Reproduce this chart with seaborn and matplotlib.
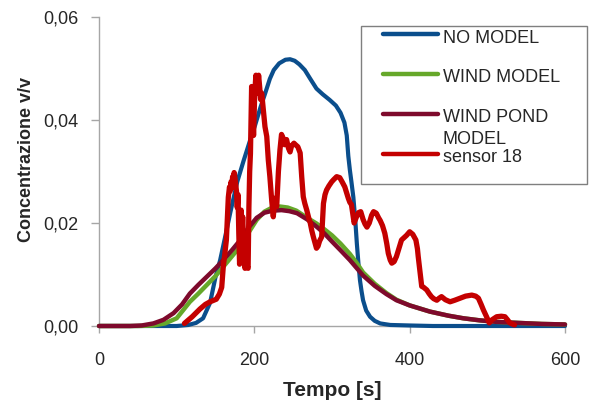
import numpy as np
import matplotlib
matplotlib.use("Agg")
import matplotlib.pyplot as plt
import seaborn as sns
from matplotlib.lines import Line2D
from matplotlib.patches import Rectangle

# ---- data ----
t_no_model = [0, 50, 100, 115, 125, 134, 143, 150, 156, 162, 169, 178, 186, 194, 201, 208,
              214, 220, 225, 232, 240, 246, 252, 258, 265, 272, 280, 288, 297, 305, 311,
              316, 319, 321, 323, 325, 327.5, 330, 332, 334, 336, 338, 340, 344, 349, 355,
              362, 375, 400, 430, 600]
c_no_model = [0, 0, 0, 0.0002, 0.0006, 0.0015, 0.0045, 0.0095, 0.0128, 0.0170, 0.0220,
              0.0280, 0.0320, 0.0358, 0.0390, 0.0425, 0.0452, 0.0480, 0.0497, 0.0510,
              0.0517, 0.0518, 0.0515, 0.0508, 0.0497, 0.0480, 0.0461, 0.0450, 0.0439,
              0.0428, 0.0414, 0.0395, 0.0370, 0.0330, 0.0303, 0.0280, 0.0250, 0.0205,
              0.0160, 0.0122, 0.0089, 0.0068, 0.0050, 0.0030, 0.0018, 0.0010, 0.0005,
              0.0002, 0.0001, 0, 0]

t_wind = [0, 50, 70, 85, 100, 117, 128, 139, 150, 160, 171, 182, 192, 203, 213, 223, 233,
          243, 254, 268, 280, 290, 300, 311, 323, 332, 340, 355, 370, 383, 400, 426, 450,
          469, 490, 512, 540, 570, 600]
c_wind = [0, 0, 0.0001, 0.0005, 0.0015, 0.0047, 0.0063, 0.0080, 0.0097, 0.0115, 0.0135,
          0.0155, 0.0180, 0.0206, 0.0222, 0.0230, 0.0232, 0.0230, 0.0224, 0.0210, 0.0199,
          0.0188, 0.0176, 0.0160, 0.0140, 0.0122, 0.0104, 0.0082, 0.0064, 0.0051, 0.0040,
          0.0028, 0.0020, 0.0015, 0.0011, 0.0008, 0.0006, 0.0004, 0.0003]

t_wind_pond = [0, 40, 55, 70, 83, 96, 107, 117, 128, 139, 150, 160, 171, 182, 192, 203,
               213, 224, 235, 245, 255, 268, 280, 290, 300, 311, 323, 340, 355, 370, 383,
               400, 426, 450, 469, 490, 512, 540, 570, 600]
c_wind_pond = [0, 0, 0.0001, 0.0005, 0.0012, 0.0025, 0.0042, 0.0063, 0.0080, 0.0096,
               0.0112, 0.0128, 0.0147, 0.0167, 0.0190, 0.0210, 0.0220, 0.0224, 0.0225,
               0.0223, 0.0219, 0.0207, 0.0193, 0.0180, 0.0164, 0.0147, 0.0128, 0.0098,
               0.0078, 0.0062, 0.0050, 0.0040, 0.0028, 0.0020, 0.0015, 0.0011, 0.0008,
               0.0006, 0.0004, 0.0003]

t_sensor = [110, 120, 130, 137, 143, 151, 155, 158, 160, 162, 164, 165, 166.5, 168, 169,
            170, 171, 172, 173, 174, 175, 176, 177, 178, 179, 180, 181, 182, 183, 184, 185,
            186, 187, 188, 189, 190, 191, 192, 193, 194, 195, 196.5, 198, 199, 200.5, 202,
            203, 204, 205.5, 207, 208, 209.5, 211.6, 213.7, 216, 218, 220, 222.3, 224.4,
            226.5, 228.8, 231, 233, 235, 237, 239, 241.5, 244, 246, 248, 251, 253, 256,
            259, 261, 263, 265, 267.5, 270, 272, 274, 276, 278, 280, 282, 284, 286.7, 289,
            291, 293, 296, 299.6, 302, 306, 310, 313, 316.5, 319, 321, 323, 325, 327, 328.5,
            331, 334, 337, 340, 342.5, 345, 348, 351, 353.5, 357, 360, 362, 365, 368, 370.5,
            372.5, 375, 377, 380, 383, 386, 389.5, 393, 396, 400, 404, 408, 410, 411, 413,
            415.5, 418, 422, 425, 428, 431, 435, 438, 441, 446, 452, 458, 465, 472, 480,
            485, 488.5, 492, 495, 499, 502.5, 506, 512, 518, 522.7, 526, 529, 535]
c_sensor = [0.0005, 0.0018, 0.0033, 0.0042, 0.0047, 0.0052, 0.0062, 0.0075, 0.0115, 0.0140,
            0.0167, 0.0200, 0.0250, 0.0270, 0.0262, 0.0280, 0.0268, 0.0290, 0.0285, 0.0298,
            0.0288, 0.0275, 0.0262, 0.0230, 0.0255, 0.0180, 0.0120, 0.0160, 0.0225, 0.0180,
            0.0212, 0.0175, 0.0160, 0.0112, 0.0140, 0.0170, 0.0115, 0.0112, 0.0230, 0.0300,
            0.0335, 0.0465, 0.0420, 0.0370, 0.0452, 0.0487, 0.0470, 0.0452, 0.0487, 0.0462,
            0.0440, 0.0452, 0.0419, 0.0387, 0.0368, 0.0322, 0.0290, 0.0245, 0.0212, 0.0248,
            0.0232, 0.0300, 0.0342, 0.0372, 0.0365, 0.0352, 0.0362, 0.0345, 0.0338, 0.0350,
            0.0355, 0.0352, 0.0348, 0.0336, 0.0290, 0.0251, 0.0238, 0.0225, 0.0210, 0.0200,
            0.0185, 0.0173, 0.0162, 0.0151, 0.0155, 0.0165, 0.0173, 0.0238, 0.0255, 0.0264,
            0.0272, 0.0280, 0.0284, 0.0290, 0.0288, 0.0280, 0.0270, 0.0258, 0.0248, 0.0240,
            0.0236, 0.0215, 0.0200, 0.0210, 0.0220, 0.0222, 0.0207, 0.0198, 0.0192, 0.0200,
            0.0215, 0.0222, 0.0219, 0.0210, 0.0205, 0.0195, 0.0180, 0.0160, 0.0141, 0.0128,
            0.0122, 0.0125, 0.0135, 0.0150, 0.0167, 0.0172, 0.0176, 0.0183, 0.0178, 0.0167,
            0.0150, 0.0135, 0.0110, 0.0077, 0.0075, 0.0070, 0.0063, 0.0057, 0.0053, 0.0050,
            0.0054, 0.0057, 0.0051, 0.0047, 0.0050, 0.0054, 0.0058, 0.0060, 0.0058, 0.0054,
            0.0042, 0.0031, 0.0018, 0.0006, 0.0012, 0.0018, 0.0019, 0.0018, 0.0012, 0.0006,
            0.0002]

series_names = ["NO MODEL", "WIND MODEL", "WIND POND\nMODEL", "sensor 18"]
series_colors = ["#0B4E8C", "#66A82A", "#7E0A2C", "#C40000"]
series_widths = [3.0, 3.2, 3.2, 3.8]

x_ticks = [0, 200, 400, 600]
y_ticks = [0.00, 0.02, 0.04, 0.06]
y_tick_labels = ["0,00", "0,02", "0,04", "0,06"]

# ---- plot ----
sns.set_style("white")
plt.rcParams["font.family"] = ["Liberation Sans", "DejaVu Sans"]

W, H = 589, 403
fig = plt.figure(figsize=(W / 100, H / 100), dpi=100)
ax = fig.add_axes([99 / W, 1 - 326 / H, (565 - 99) / W, (326 - 17) / H])

all_t = [t_no_model, t_wind, t_wind_pond, t_sensor]
all_c = [c_no_model, c_wind, c_wind_pond, c_sensor]
for t, c, col, lw in zip(all_t, all_c, series_colors, series_widths):
    sns.lineplot(x=t, y=c, ax=ax, color=col, linewidth=lw, estimator=None,
                 solid_capstyle="round", solid_joinstyle="round", clip_on=False)

ax.set_xlim(0, 600)
ax.set_ylim(0, 0.06)
ax.set_xticks(x_ticks)
ax.set_xticklabels([str(v) for v in x_ticks])
ax.set_yticks(y_ticks)
ax.set_yticklabels(y_tick_labels)
ax.tick_params(axis="x", direction="out", length=5, width=1, color="#A6A6A6",
               labelsize=13, pad=14, bottom=True)
ax.tick_params(axis="y", direction="out", length=6, width=1, color="#A6A6A6",
               labelsize=13, pad=9, left=True)
for s in ["top", "right"]:
    ax.spines[s].set_visible(False)
for s in ["left", "bottom"]:
    ax.spines[s].set_color("#A6A6A6")
    ax.spines[s].set_linewidth(1)
    ax.spines[s].set_zorder(0.5)

ax.set_xlabel("Tempo [s]", fontsize=15, fontweight="bold", labelpad=8)
ax.set_ylabel("Concentrazione v/v", fontsize=13, fontweight="bold", labelpad=6)
ax.yaxis.label.set_y(0.539)

# ---- legend box (Excel style, fixed rows) ----
fig.add_artist(Rectangle((361 / W, 1 - 184 / H), (587 - 361) / W, (184 - 26) / H,
                         transform=fig.transFigure, facecolor="white",
                         edgecolor="#7F7F7F", linewidth=1))
row_y = [34.3, 74, 114, 154]
for ry, name, col in zip(row_y, series_names, series_colors):
    fig.add_artist(Line2D([383 / W, 438 / W], [1 - ry / H, 1 - ry / H],
                          transform=fig.transFigure, color=col, linewidth=3.2,
                          solid_capstyle="round"))
    fig.text(443 / W, 1 - (ry - 4.5) / H, name, fontsize=13, va="top", ha="left",
             linespacing=1.38)

fig.savefig("out.png", dpi=100)
